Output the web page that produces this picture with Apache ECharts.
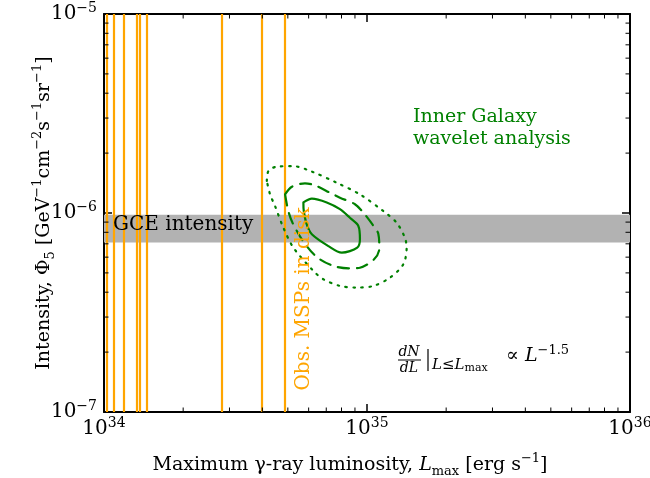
<!DOCTYPE html>
<html>
<head>
<meta charset="utf-8">
<script src="https://cdn.jsdelivr.net/npm/echarts@6/dist/echarts.min.js"></script>
<style>
html, body { margin: 0; padding: 0; background: #fff; }
#chart { width: 650px; height: 478px; }
</style>
</head>
<body>
<div id="chart"></div>
<script>
// axis ranges
const xRange = [1e34, 1e36]
const yRange = [1e-7, 1e-5]

// luminosities of observed MSPs in the disk (vertical lines)
const mspLum = [1.02e34, 1.09e34, 1.19e34, 1.33e34, 1.37e34, 1.45e34, 2.80e34, 3.97e34, 4.86e34]

// GCE intensity band
const gceBand = [7.1e-7, 9.8e-7]

// inner galaxy wavelet contours [Lmax, intensity]
const contourSolid = [
  [5.73e34, 1.13e-6], [6.17e34, 1.18e-6], [7.03e34, 1.13e-6], [7.89e34, 1.045e-6],
  [8.61e34, 9.46e-7], [9.27e34, 8.61e-7], [9.40e34, 7.38e-7], [9.18e34, 6.70e-7],
  [8.02e34, 6.32e-7], [7.13e34, 6.82e-7], [6.17e34, 7.82e-7], [5.90e34, 8.77e-7],
  [5.75e34, 1.023e-6], [5.73e34, 1.13e-6]
]
const contourDashed = [
  [4.88e34, 1.24e-6], [5.18e34, 1.355e-6], [5.81e34, 1.41e-6], [6.34e34, 1.377e-6],
  [7.23e34, 1.265e-6], [7.89e34, 1.194e-6], [9.00e34, 1.107e-6], [9.68e34, 1.005e-6],
  [1.052e35, 8.71e-7], [1.104e35, 7.87e-7], [1.114e35, 6.62e-7], [1.064e35, 5.85e-7],
  [9.40e34, 5.31e-7], [8.61e34, 5.27e-7], [7.45e34, 5.42e-7], [6.44e34, 6.01e-7],
  [5.71e34, 7.23e-7], [5.21e34, 8.93e-7], [5.02e34, 1.023e-6], [4.88e34, 1.24e-6]
]
const contourDotted = [
  [4.16e34, 1.449e-6], [4.22e34, 1.626e-6], [4.54e34, 1.71e-6], [5.25e34, 1.72e-6],
  [6.17e34, 1.614e-6], [7.67e34, 1.419e-6], [9.40e34, 1.24e-6], [1.153e35, 1.023e-6],
  [1.297e35, 8.93e-7], [1.393e35, 7.52e-7], [1.415e35, 6.70e-7], [1.374e35, 5.52e-7],
  [1.222e35, 4.73e-7], [1.057e35, 4.30e-7], [9.14e34, 4.22e-7], [7.89e34, 4.30e-7],
  [6.82e34, 4.65e-7], [6.25e34, 5.12e-7], [5.25e34, 6.70e-7], [4.81e34, 8.43e-7],
  [4.47e34, 1.084e-6], [4.28e34, 1.24e-6], [4.16e34, 1.449e-6]
]

// minor tick multipliers within each decade
const minorSteps = [2, 3, 4, 5, 6, 7, 8, 9]
const xDecades = [34, 35]
const yDecades = [-7, -6]

const serif = '"DejaVu Serif", "Liberation Serif", serif'
const green = '#008000'
const orange = '#FFA500'

const expLabel = (v) => {
  const e = Math.round(Math.log10(v))
  return '{b|10}{s|' + (e < 0 ? '\u2212' + (-e) : e) + '}'
}
const labelRich = {
  b: { fontSize: 20, fontFamily: serif, color: '#000', lineHeight: 25 },
  s: { fontSize: 14, fontFamily: serif, color: '#000', verticalAlign: 'top', lineHeight: 14 }
}
const nameRich = {
  i: { fontSize: 19, fontFamily: serif, fontStyle: 'italic', color: '#000', lineHeight: 26 },
  sub: { fontSize: 13, fontFamily: serif, color: '#000', verticalAlign: 'bottom', lineHeight: 14 },
  sup: { fontSize: 13, fontFamily: serif, color: '#000', verticalAlign: 'top', lineHeight: 13 }
}

const baseAxis = {
  type: 'log',
  logBase: 10,
  axisLine: { show: true, onZero: false, lineStyle: { color: '#000', width: 2 } },
  axisTick: { show: true, inside: true, length: 8, lineStyle: { color: '#000', width: 1.5 } },
  splitLine: { show: false },
  minorTick: { show: false },
  nameMoveOverlap: false
}

const minorData = xDecades.flatMap(d => minorSteps.map(m => [m * Math.pow(10, d), 1e-6, 0]))
  .concat(yDecades.flatMap(d => minorSteps.map(m => [1e35, m * Math.pow(10, d), 1])))

const contourSeries = (data, type) => ({
  type: 'line',
  data: data,
  smooth: 0.3,
  showSymbol: false,
  silent: true,
  z: 5,
  lineStyle: { color: green, width: 2.2, type: type, cap: 'round' }
})

const chart = echarts.init(document.getElementById('chart'))

chart.setOption({
  animation: false,
  backgroundColor: '#fff',
  grid: { left: 104, right: 20, top: 14, bottom: 66, outerBoundsMode: 'none', containLabel: false },
  xAxis: [
    {
      ...baseAxis,
      min: xRange[0],
      max: xRange[1],
      position: 'bottom',
      axisLabel: { formatter: expLabel, rich: labelRich, margin: 4 },
      name: 'Maximum \u03b3-ray luminosity, {i|L}{sub|max} [erg s{sup|\u22121}]',
      nameLocation: 'middle',
      nameGap: 40,
      nameTextStyle: { fontSize: 19, fontFamily: serif, color: '#000', lineHeight: 26, padding: [0, 34, 0, 0], rich: nameRich }
    },
    {
      ...baseAxis,
      min: xRange[0],
      max: xRange[1],
      position: 'top',
      axisLabel: { show: false }
    }
  ],
  yAxis: [
    {
      ...baseAxis,
      min: yRange[0],
      max: yRange[1],
      position: 'left',
      axisLabel: { formatter: expLabel, rich: labelRich, margin: 7 },
      name: 'Intensity, \u03a6{sub|5} [GeV{sup|\u22121}cm{sup|\u22122}s{sup|\u22121}sr{sup|\u22121}]',
      nameLocation: 'middle',
      nameGap: 47,
      nameTextStyle: { fontSize: 19, fontFamily: serif, color: '#000', lineHeight: 26, rich: nameRich }
    },
    {
      ...baseAxis,
      min: yRange[0],
      max: yRange[1],
      position: 'right',
      axisLabel: { show: false }
    }
  ],
  series: [
    {
      name: 'GCE',
      type: 'line',
      data: [],
      silent: true,
      z: 1,
      markArea: {
        silent: true,
        itemStyle: { color: '#b2b2b2', opacity: 1 },
        data: [[{ yAxis: gceBand[0] }, { yAxis: gceBand[1] }]]
      }
    },
    {
      name: 'MSPs',
      type: 'line',
      data: [],
      silent: true,
      z: 2,
      markLine: {
        silent: true,
        symbol: 'none',
        label: { show: false },
        lineStyle: { color: orange, width: 2.2, type: 'solid' },
        data: mspLum.map(v => ({ xAxis: v }))
      }
    },
    contourSeries(contourDotted, [1.5, 6.5]),
    contourSeries(contourDashed, [11, 8]),
    contourSeries(contourSolid, 'solid'),
    {
      type: 'custom',
      silent: true,
      z: 10,
      encode: { x: 0, y: 1 },
      data: minorData,
      renderItem: (params, api) => {
        const cs = params.coordSys
        const p = api.coord([api.value(0), api.value(1)])
        const style = { stroke: '#000', lineWidth: 1 }
        const len = 4.5
        if (api.value(2) === 0) {
          return {
            type: 'group',
            children: [
              { type: 'line', shape: { x1: p[0], y1: cs.y + cs.height, x2: p[0], y2: cs.y + cs.height - len }, style },
              { type: 'line', shape: { x1: p[0], y1: cs.y, x2: p[0], y2: cs.y + len }, style }
            ]
          }
        }
        return {
          type: 'group',
          children: [
            { type: 'line', shape: { x1: cs.x, y1: p[1], x2: cs.x + len, y2: p[1] }, style },
            { type: 'line', shape: { x1: cs.x + cs.width, y1: p[1], x2: cs.x + cs.width - len, y2: p[1] }, style }
          ]
        }
      }
    }
  ],
  graphic: [
    {
      type: 'text', left: 113, top: 215, z: 20,
      style: { text: 'GCE intensity', fontSize: 20, fontFamily: serif, fill: '#000' }
    },
    {
      type: 'text', left: 413, top: 106, z: 20,
      style: { text: 'Inner Galaxy\nwavelet analysis', fontSize: 19, lineHeight: 22, fontFamily: serif, fill: green }
    },
    {
      type: 'text', x: 304, y: 299, rotation: Math.PI / 2, z: 20,
      style: { text: 'Obs. MSPs in disk', fontSize: 20, fontFamily: serif, fill: orange, align: 'center', verticalAlign: 'middle' }
    },
    {
      type: 'group', z: 20,
      children: [
        { type: 'text', x: 409, y: 352, style: { text: 'dN', fontSize: 14, fontStyle: 'italic', fontFamily: serif, fill: '#000', align: 'center', verticalAlign: 'middle' } },
        { type: 'line', shape: { x1: 398, y1: 360, x2: 421, y2: 360 }, style: { stroke: '#000', lineWidth: 1 } },
        { type: 'text', x: 409, y: 368, style: { text: 'dL', fontSize: 14, fontStyle: 'italic', fontFamily: serif, fill: '#000', align: 'center', verticalAlign: 'middle' } },
        { type: 'line', shape: { x1: 428, y1: 349, x2: 428, y2: 371 }, style: { stroke: '#000', lineWidth: 1.2 } },
        { type: 'text', x: 432, y: 365, style: { text: '{i|L}\u2264{i|L}{s|max}', fontSize: 15, fontFamily: serif, fill: '#000', verticalAlign: 'middle',
          rich: { i: { fontSize: 15, fontStyle: 'italic', fontFamily: serif, fill: '#000', lineHeight: 18 }, s: { fontSize: 11, fontFamily: serif, fill: '#000', verticalAlign: 'bottom', lineHeight: 11 } } } },
        { type: 'text', x: 506, y: 356, style: { text: '\u221d {i|L}{s|\u22121.5}', fontSize: 19, fontFamily: serif, fill: '#000', verticalAlign: 'middle',
          rich: { i: { fontSize: 19, fontStyle: 'italic', fontFamily: serif, fill: '#000', lineHeight: 24 }, s: { fontSize: 13, fontFamily: serif, fill: '#000', verticalAlign: 'top', lineHeight: 13 } } } }
      ]
    }
  ]
})
</script>
</body>
</html>
